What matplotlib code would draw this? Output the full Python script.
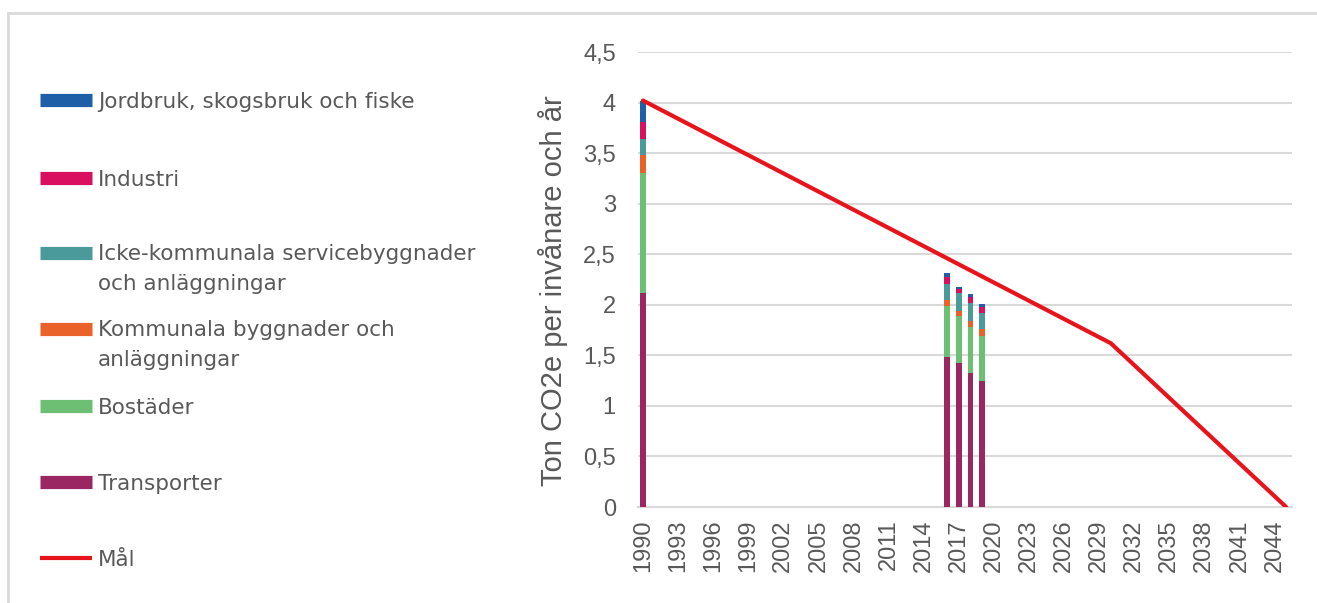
"""Utsläpp per invånare och sektor jämfört med målbana (stapel + linje)."""

import matplotlib

matplotlib.use("Agg")

import matplotlib.pyplot as plt
import numpy as np
from matplotlib.lines import Line2D
from matplotlib.patches import Rectangle
from matplotlib.ticker import FuncFormatter

FIG_W_PX = 1317
FIG_H_PX = 603
DPI = 100

# Staplarnas år och värden per sektor (ton CO2e per invånare)
BAR_YEARS = [1990, 2016, 2017, 2018, 2019]
TRANSPORTER = [2.12, 1.48, 1.42, 1.33, 1.25]
BOSTADER = [1.18, 0.51, 0.47, 0.45, 0.44]
KOMMUNALA = [0.18, 0.06, 0.05, 0.06, 0.07]
ICKE_KOMMUNALA = [0.16, 0.16, 0.18, 0.18, 0.16]
INDUSTRI = [0.17, 0.06, 0.04, 0.06, 0.06]
JORDBRUK = [0.21, 0.04, 0.02, 0.03, 0.03]

# Målbana
GOAL_YEARS = [1990, 2030, 2045]
GOAL_VALUES = [4.02, 1.62, 0.0]

SERIES_LABELS = [
    "Transporter",
    "Bostäder",
    "Kommunala byggnader och\nanläggningar",
    "Icke-kommunala servicebyggnader\noch anläggningar",
    "Industri",
    "Jordbruk, skogsbruk och fiske",
]
SERIES_COLORS = ["#9b2762", "#6dbf74", "#e8622a", "#4a9a9b", "#d8105f", "#1f5fa8"]
GOAL_LABEL = "Mål"
GOAL_COLOR = "#e8141c"

X_TICKS = list(range(1990, 2045, 3))
Y_TICKS = [0, 0.5, 1, 1.5, 2, 2.5, 3, 3.5, 4, 4.5]

TEXT_COLOR = "#595959"
GRID_COLOR = "#d9d9d9"


def px_x(x):
    return x / FIG_W_PX


def px_y(y):
    return 1 - y / FIG_H_PX


def main():
    plt.rcParams["font.family"] = ["Liberation Sans", "DejaVu Sans"]

    fig = plt.figure(figsize=(FIG_W_PX / DPI, FIG_H_PX / DPI), dpi=DPI)
    fig.patch.set_facecolor("white")

    ax = fig.add_axes([px_x(638), px_y(507), (1292 - 638) / FIG_W_PX, (507 - 52) / FIG_H_PX])

    series = [TRANSPORTER, BOSTADER, KOMMUNALA, ICKE_KOMMUNALA, INDUSTRI, JORDBRUK]
    bottom = np.zeros(len(BAR_YEARS))
    for values, color in zip(series, SERIES_COLORS):
        ax.bar(BAR_YEARS, values, width=0.48, bottom=bottom, color=color, zorder=3)
        bottom += np.array(values)

    ax.plot(GOAL_YEARS, GOAL_VALUES, color=GOAL_COLOR, linewidth=3.0, zorder=4,
            solid_capstyle="round")

    ax.set_xlim(1989.57, 2045.5)
    ax.set_ylim(0, 4.5)
    ax.set_xticks(X_TICKS)
    ax.set_xticklabels([str(y) for y in X_TICKS], rotation=90)
    ax.set_yticks(Y_TICKS)
    ax.yaxis.set_major_formatter(FuncFormatter(lambda v, _: f"{v:g}".replace(".", ",")))
    ax.tick_params(axis="both", length=0, labelsize=17, labelcolor=TEXT_COLOR)
    ax.tick_params(axis="y", pad=16)
    ax.tick_params(axis="x", pad=9)
    ax.grid(axis="y", color=GRID_COLOR, linewidth=1.5, zorder=0)
    for side in ["top", "right", "left"]:
        ax.spines[side].set_visible(False)
    ax.spines["bottom"].set_color(GRID_COLOR)
    ax.spines["bottom"].set_linewidth(1.5)

    fig.text(px_x(553), px_y(291), "Ton CO2e per invånare och år", rotation=90,
             ha="center", va="center", fontsize=21, color=TEXT_COLOR)

    # Förklaring till vänster, uppifrån och ned
    legend_labels = list(reversed(SERIES_LABELS)) + [GOAL_LABEL]
    legend_colors = list(reversed(SERIES_COLORS)) + [GOAL_COLOR]
    legend_rows = [100, 178, 253, 329, 406, 482, 558]
    line_step = 30
    for row, (label, color) in enumerate(zip(legend_labels, legend_colors)):
        y = legend_rows[row]
        is_goal = label == GOAL_LABEL
        fig.add_artist(Line2D(
            [px_x(40), px_x(92)], [px_y(y), px_y(y)],
            color=color, linewidth=3.0 if is_goal else 9.5,
            solid_capstyle="butt", transform=fig.transFigure,
        ))
        for k, part in enumerate(label.split("\n")):
            fig.text(px_x(98), px_y(y + 7.5 + k * line_step), part, ha="left",
                     va="baseline", fontsize=15.5, color=TEXT_COLOR,
                     family="DejaVu Sans")

    # Tunn ram upptill och till vänster
    fig.add_artist(Rectangle(
        (px_x(8), px_y(640)), 2, (640 - 13) / FIG_H_PX,
        transform=fig.transFigure, fill=False, edgecolor="#d9d9d9", linewidth=2,
    ))

    fig.savefig("out.png", dpi=DPI)
    plt.close(fig)


if __name__ == "__main__":
    main()
